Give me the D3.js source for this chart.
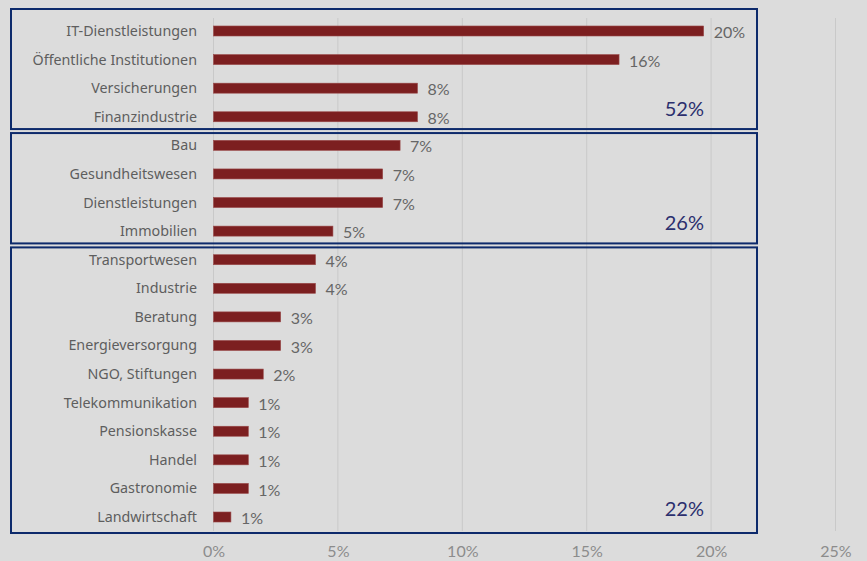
<!DOCTYPE html>
<html>
<head>
<meta charset="utf-8">
<script src="https://cdn.jsdelivr.net/npm/d3@7"></script>
<style>
  html, body { margin: 0; padding: 0; background: #dcdcdc; }
  svg { display: block; }
</style>
</head>
<body>
<div id="chart"></div>
<script>
// Branchen (sorted as in the chart)
const categories = [
    'IT-Dienstleistungen', 'Öffentliche Institutionen', 'Versicherungen', 'Finanzindustrie',
    'Bau', 'Gesundheitswesen', 'Dienstleistungen', 'Immobilien',
    'Transportwesen', 'Industrie', 'Beratung', 'Energieversorgung', 'NGO, Stiftungen',
    'Telekommunikation', 'Pensionskasse', 'Handel', 'Gastronomie', 'Landwirtschaft'
];
// share in percent
const values = [19.7, 16.3, 8.2, 8.2, 7.5, 6.8, 6.8, 4.8, 4.1, 4.1, 2.7, 2.7, 2.0, 1.4, 1.4, 1.4, 1.4, 0.7];
const valueLabels = ['20%', '16%', '8%', '8%', '7%', '7%', '7%', '5%', '4%', '4%', '3%', '3%', '2%', '1%', '1%', '1%', '1%', '1%'];

// groups framed by boxes
const groupFirst = ['IT-Dienstleistungen', 'Bau', 'Transportwesen'];
const groupLast = ['Finanzindustrie', 'Immobilien', 'Landwirtschaft'];
const groupTotals = ['52%', '26%', '22%'];

const xTicks = [0, 5, 10, 15, 20, 25];

const width = 867;
const height = 561;

const svg = d3.select('#chart').append('svg')
    .attr('width', width)
    .attr('height', height);

svg.append('rect')
    .attr('width', width)
    .attr('height', height)
    .attr('fill', '#dcdcdc');

const x = d3.scaleLinear()
    .domain([0, 25])
    .range([213.5, 835.5]);

const y = d3.scaleBand()
    .domain(categories)
    .range([16.7, 531.3])
    .paddingInner(0.65)
    .paddingOuter(0.325);

const step = y.step();
const yc = d => y(d) + y.bandwidth() / 2;

// gridlines
svg.append('g')
    .selectAll('line')
    .data(xTicks)
    .enter().append('line')
    .attr('x1', d => x(d))
    .attr('x2', d => x(d))
    .attr('y1', 18)
    .attr('y2', 531)
    .attr('stroke', '#c9c9c9')
    .attr('stroke-width', 1);

// x axis labels
const xAxis = svg.append('g')
    .attr('transform', 'translate(0,543)')
    .call(d3.axisBottom(x).tickValues(xTicks).tickFormat(d => d + '%').tickSize(0));
xAxis.select('.domain').remove();
xAxis.selectAll('text')
    .attr('fill', '#8c8c8c')
    .style('font-family', 'Lato, sans-serif')
    .style('font-size', '16px');

// bars
svg.append('g')
    .selectAll('rect')
    .data(categories)
    .enter().append('rect')
    .attr('x', x(0))
    .attr('y', d => y(d))
    .attr('width', (d, i) => x(values[i]) - x(0))
    .attr('height', y.bandwidth())
    .attr('fill', '#7c1f20')
    .attr('stroke', '#9a4a4a')
    .attr('stroke-width', 0.6);

// category labels
svg.append('g')
    .selectAll('text')
    .data(categories)
    .enter().append('text')
    .attr('x', 197)
    .attr('y', d => yc(d))
    .attr('dy', '0.35em')
    .attr('text-anchor', 'end')
    .attr('fill', '#5e5e5e')
    .style('font-family', '"Noto Sans", sans-serif')
    .style('font-size', '14.3px')
    .text(d => d);

// value labels
svg.append('g')
    .selectAll('text')
    .data(categories)
    .enter().append('text')
    .attr('x', (d, i) => x(values[i]) + 10)
    .attr('y', d => yc(d) + 1.5)
    .attr('dy', '0.35em')
    .attr('fill', '#666')
    .style('font-family', 'Lato, sans-serif')
    .style('font-size', '16px')
    .text((d, i) => valueLabels[i]);

// group boxes
const boxes = groupFirst.map((first, i) => {
    const last = groupLast[i];
    const top = i === 0 ? 9 : yc(first) - step / 2 + 2;
    const bottom = i === groupFirst.length - 1 ? yc(last) + 16 : yc(last) + step / 2 - 2;
    return { top, bottom, last, total: groupTotals[i] };
});

svg.append('g')
    .selectAll('rect')
    .data(boxes)
    .enter().append('rect')
    .attr('x', 11)
    .attr('y', d => d.top)
    .attr('width', 746)
    .attr('height', d => d.bottom - d.top)
    .attr('fill', 'none')
    .attr('stroke', '#0d2a6b')
    .attr('stroke-width', 2);

svg.append('g')
    .selectAll('text')
    .data(boxes)
    .enter().append('text')
    .attr('x', 704)
    .attr('y', d => yc(d.last) - 8)
    .attr('dy', '0.35em')
    .attr('text-anchor', 'end')
    .attr('fill', '#2b2f6e')
    .style('font-family', 'Lato, sans-serif')
    .style('font-size', '20px')
    .text(d => d.total);
</script>
</body>
</html>
